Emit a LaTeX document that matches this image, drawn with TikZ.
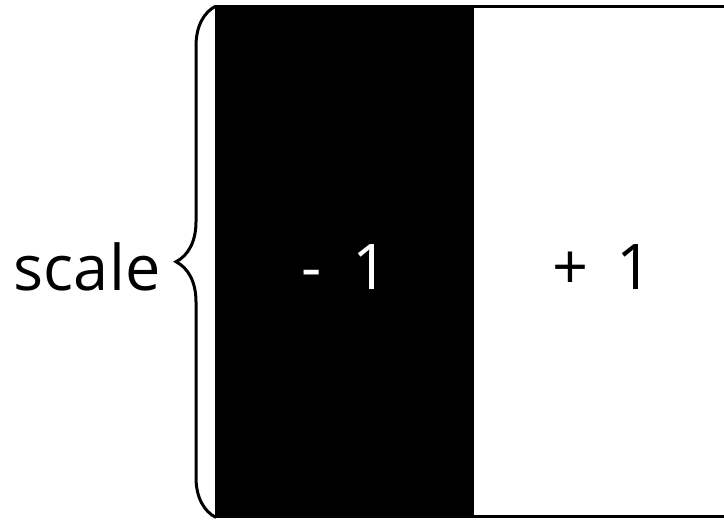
\documentclass[tikz,border=0pt]{standalone}
\usepackage{fontspec}
\setmainfont{Open Sans}
\usetikzlibrary{decorations.pathreplacing}
\begin{document}
\begin{tikzpicture}[x=1pt,y=1pt,
  lbl/.style={font=\fontsize{63}{70}\selectfont, inner sep=0pt, anchor=center},
  frame/.style={line width=3pt, draw=black}]
\useasboundingbox (0,0) rectangle (724,521);
\fill[white] (0,0) rectangle (724,521);
\begin{scope}
\clip (0,0) rectangle (724,521);
\fill[black] (216,4) rectangle (474,514.5);
\draw[frame] (216,4) rectangle (726,514.5);
\end{scope}
\coordinate (bb) at (216,3.5);
\coordinate (bt) at (216,515);
\draw[line width=3pt, decorate, decoration={brace, amplitude=40pt}] (bb) -- (bt);
\node[lbl, text=white] (neg) at (345,254) {-\hspace{30pt}1};
\node[lbl, text=black] (pos) at (603,254) {+\hspace{28pt}1};
\node[lbl, anchor=east] (sc) at (161,254) {s\kern0.3ptc\kern0.3pta\kern0.3ptl\kern0.3pte};
\end{tikzpicture}
\end{document}
